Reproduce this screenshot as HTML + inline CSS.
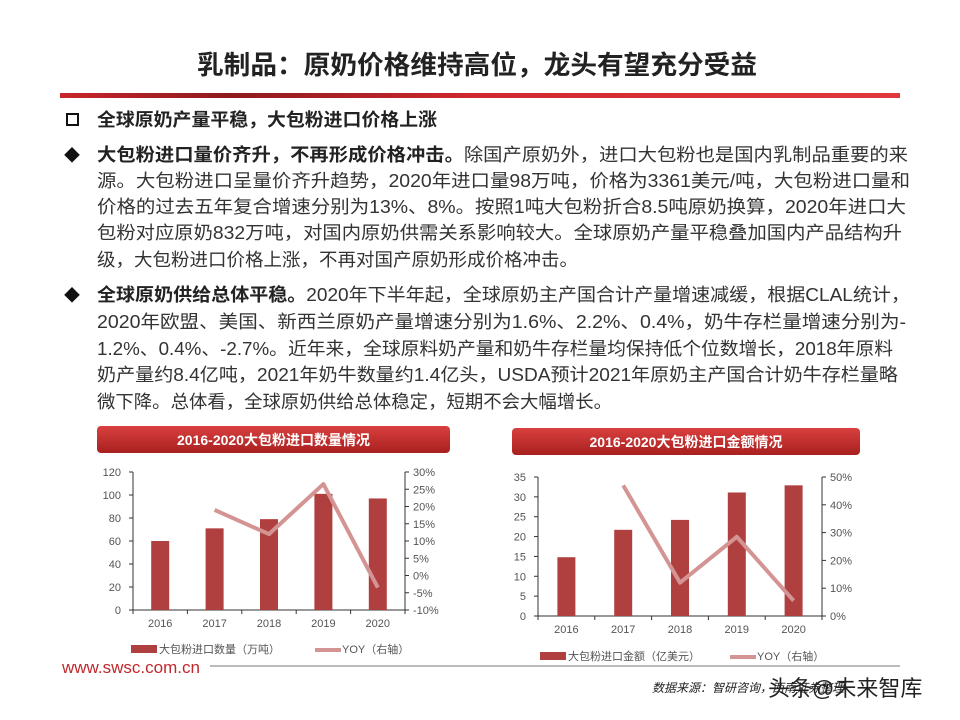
<!DOCTYPE html>
<html><head><meta charset="utf-8"><style>
body{margin:0;background:#fff;}
svg{display:block;font-family:"Liberation Sans","Noto Sans CJK SC",sans-serif;}
</style></head><body>
<svg width="960" height="720" viewBox="0 0 960 720">
<defs>
<linearGradient id="rule" x1="0" x2="1"><stop offset="0" stop-color="#c8262c"/><stop offset="0.2" stop-color="#8e1a1e"/><stop offset="0.5" stop-color="#d0282e"/><stop offset="1" stop-color="#e0383c"/></linearGradient>
<linearGradient id="ban" x1="0" y1="0" x2="0" y2="1"><stop offset="0" stop-color="#d9403f"/><stop offset="1" stop-color="#a8201f"/></linearGradient>
</defs>
<text x="197" y="74" font-size="26" font-weight="bold" fill="#222" textLength="560" lengthAdjust="spacingAndGlyphs">乳制品：原奶价格维持高位，龙头有望充分受益</text>
<rect x="60" y="93" width="840" height="5" fill="url(#rule)"/>
<g font-size="18" fill="#333">
<rect x="67" y="114" width="11" height="11" fill="none" stroke="#111" stroke-width="2"/>
<text x="97" y="126" font-weight="bold" fill="#222" textLength="340" lengthAdjust="spacingAndGlyphs">全球原奶产量平稳，大包粉进口价格上涨</text>
<text x="64" y="161" font-size="16" fill="#111">◆</text>
<text x="97" y="161" textLength="811" lengthAdjust="spacingAndGlyphs"><tspan font-weight="bold" fill="#222">大包粉进口量价齐升，不再形成价格冲击。</tspan>除国产原奶外，进口大包粉也是国内乳制品重要的来</text>
<text x="97" y="187" textLength="813" lengthAdjust="spacingAndGlyphs">源。大包粉进口呈量价齐升趋势，2020年进口量98万吨，价格为3361美元/吨，大包粉进口量和</text>
<text x="97" y="213" textLength="809" lengthAdjust="spacingAndGlyphs">价格的过去五年复合增速分别为13%、8%。按照1吨大包粉折合8.5吨原奶换算，2020年进口大</text>
<text x="97" y="239" textLength="805" lengthAdjust="spacingAndGlyphs">包粉对应原奶832万吨，对国内原奶供需关系影响较大。全球原奶产量平稳叠加国内产品结构升</text>
<text x="97" y="266" textLength="481" lengthAdjust="spacingAndGlyphs">级，大包粉进口价格上涨，不再对国产原奶形成价格冲击。</text>
<text x="64" y="301" font-size="16" fill="#111">◆</text>
<text x="97" y="301" textLength="813" lengthAdjust="spacingAndGlyphs"><tspan font-weight="bold" fill="#222">全球原奶供给总体平稳。</tspan>2020年下半年起，全球原奶主产国合计产量增速减缓，根据CLAL统计，</text>
<text x="97" y="328" textLength="809" lengthAdjust="spacingAndGlyphs">2020年欧盟、美国、新西兰原奶产量增速分别为1.6%、2.2%、0.4%，奶牛存栏量增速分别为-</text>
<text x="97" y="355" textLength="796" lengthAdjust="spacingAndGlyphs">1.2%、0.4%、-2.7%。近年来，全球原料奶产量和奶牛存栏量均保持低个位数增长，2018年原料</text>
<text x="97" y="381" textLength="801" lengthAdjust="spacingAndGlyphs">奶产量约8.4亿吨，2021年奶牛数量约1.4亿头，USDA预计2021年原奶主产国合计奶牛存栏量略</text>
<text x="97" y="408" textLength="515" lengthAdjust="spacingAndGlyphs">微下降。总体看，全球原奶供给总体稳定，短期不会大幅增长。</text>
</g>
<g id="c1"></g>
<g id="c2"></g>
<text x="62" y="673" font-size="17" fill="#c0282c">www.swsc.com.cn</text>
<rect x="210" y="665" width="690" height="2" fill="#bbb"/>
<text x="652" y="692" font-size="12" font-style="italic" fill="#222">数据来源：智研咨询，西南证券整理</text>
<text x="768" y="696" font-size="22" fill="#222">头条@未来智库</text>
</svg>
<script>
const years = ["2016","2017","2018","2019","2020"];
const volume = [60, 71, 79, 101, 97];
const volumeYoy = [null, 19, 12, 26.5, -3.5];
const volTicks = [0,20,40,60,80,100,120];
const volYoyTicks = [-10,-5,0,5,10,15,20,25,30];
const amount = [14.8, 21.7, 24.2, 31.1, 32.9];
const amountYoy = [null, 47, 12, 28.5, 5.5];
const amtTicks = [0,5,10,15,20,25,30,35];
const amtYoyTicks = [0,10,20,30,40,50];
const NS="http://www.w3.org/2000/svg";
function mk(p,tag,attrs,txt){const e=document.createElementNS(NS,tag);for(const k in attrs)e.setAttribute(k,attrs[k]);if(txt!=null)e.textContent=txt;p.appendChild(e);return e;}
function chart(g,cfg){
  const {x0,x1,y0,y1,lmax,rmin,rmax,bars,yoy,lt,rt,title,bx,by,bw,legend,ly,lx,pct}=cfg;
  const ban=mk(g,'rect',{x:bx,y:by,width:bw,height:27,rx:4,fill:'url(#ban)'});
  
  
  const tt=mk(g,'text',{x:bx+bw/2,y:by+19,'text-anchor':'middle','font-size':14,'font-weight':'bold',fill:'#fff'},title);
  
  
  const yL=v=>y0-(v/lmax)*(y0-y1);
  const yR=v=>y0-((v-rmin)/(rmax-rmin))*(y0-y1);
  const band=(x1-x0)/years.length;
  const xc=i=>x0+band*(i+0.5);
  mk(g,'line',{x1:x0,y1:y1,x2:x0,y2:y0,stroke:'#333','stroke-width':1});
  mk(g,'line',{x1:x1,y1:y1,x2:x1,y2:y0,stroke:'#333','stroke-width':1});
  mk(g,'line',{x1:x0,y1:y0,x2:x1,y2:y0,stroke:'#333','stroke-width':1});
  lt.forEach(v=>{const y=yL(v);mk(g,'line',{x1:x0-4,y1:y,x2:x0,y2:y,stroke:'#333'});
    const t=mk(g,'text',{x:x0-12,y:y+4,'text-anchor':'end','font-size':11,fill:'#555'},v);
    
    });
  rt.forEach(v=>{const y=yR(v);mk(g,'line',{x1:x1,y1:y,x2:x1+4,y2:y,stroke:'#333'});
    const t=mk(g,'text',{x:x1+8,y:y+4,'font-size':11,fill:'#555'},v+'%');
    
    });
  for(let i=0;i<=years.length;i++){mk(g,'line',{x1:x0+band*i,y1:y0,x2:x0+band*i,y2:y0+4,stroke:'#333'});}
  years.forEach((yr,i)=>{
    const b=mk(g,'rect',{x:xc(i)-9,y:yL(bars[i]),width:18,height:y0-yL(bars[i]),fill:'#b04040'});
    
    
    const t=mk(g,'text',{x:xc(i),y:y0+17,'text-anchor':'middle','font-size':11,fill:'#555'},yr);
    
    
  });
  let d='';yoy.forEach((v,i)=>{if(v==null)return;d+=(d?'L':'M')+xc(i)+' '+yR(v);});
  const ln=mk(g,'path',{d:d,fill:'none',stroke:'#d49494','stroke-width':4,'stroke-linejoin':'round'});
  
  
  const l1=mk(g,'rect',{x:lx,y:ly-5,width:26,height:8,fill:'#b04040'});
  
  
  const l1t=mk(g,'text',{x:lx+28,y:ly+3,'font-size':11,fill:'#555'},legend);
  
  
  const l2=mk(g,'rect',{x:lx+pct,y:ly-2,width:26,height:4,fill:'#d49494'});
  
  
  const l2t=mk(g,'text',{x:lx+pct+27,y:ly+3,'font-size':11,fill:'#555'},'YOY（右轴）');
  
  
}
chart(document.getElementById('c1'),{x0:133,x1:405,y0:610,y1:472,lmax:120,rmin:-10,rmax:30,bars:volume,yoy:volumeYoy,lt:volTicks,rt:volYoyTicks,title:'2016-2020大包粉进口数量情况',bx:97,by:426,bw:353,legend:'大包粉进口数量（万吨）',lx:131,ly:650,pct:184});
chart(document.getElementById('c2'),{x0:538,x1:822,y0:616,y1:477,lmax:35,rmin:0,rmax:50,bars:amount,yoy:amountYoy,lt:amtTicks,rt:amtYoyTicks,title:'2016-2020大包粉进口金额情况',bx:512,by:428,bw:348,legend:'大包粉进口金额（亿美元）',lx:540,ly:657,pct:190});
</script>
</body></html>
